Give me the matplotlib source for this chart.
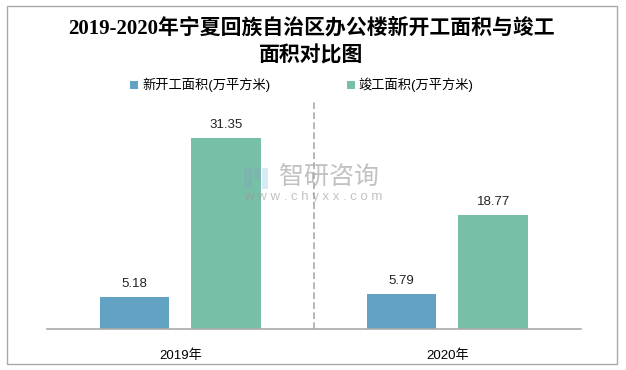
import matplotlib
matplotlib.use("Agg")
from matplotlib import pyplot as plt
from matplotlib.patches import Rectangle
import numpy as np

plt.rcParams['font.family'] = ['Liberation Sans', 'Noto Sans CJK SC', 'DejaVu Sans']

years = ["2019年", "2020年"]
series_names = ["新开工面积(万平方米)", "竣工面积(万平方米)"]
new_start = [5.18, 5.79]
completed = [31.35, 18.77]

blue = "#62A3C4"
green = "#77BFA7"

fig = plt.figure(figsize=(6.26, 3.70), dpi=100)
ax = fig.add_axes([0.075, 0.111, 0.853, 0.619])

x = np.arange(len(years))
w = 0.262
off = 0.172
b1 = ax.bar(x - off, new_start, w, color=blue, label=series_names[0])
b2 = ax.bar(x + off, completed, w, color=green, label=series_names[1])

for bars, vals in [(b1, new_start), (b2, completed)]:
    for bar, v in zip(bars, vals):
        ax.annotate(f"{v:.2f}", (bar.get_x() + bar.get_width() / 2, v),
                    xytext=(0, 5), textcoords="offset points",
                    ha="center", va="bottom", fontsize=9.5, color="#222222")

ax.set_xlim(-0.5, 1.5)
ax.set_ylim(0, 37.6)
ax.axvline(0.5, color="#AAAAAA", linestyle=(0, (4, 2)), linewidth=1.2)

for s in ["top", "right", "left"]:
    ax.spines[s].set_visible(False)
ax.spines["bottom"].set_color("#AAAAAA")
ax.spines["bottom"].set_linewidth(1.2)
ax.set_yticks([])
ax.set_xticks(x)
ax.set_xticklabels(years, fontsize=9.5)
ax.tick_params(axis="x", length=0, pad=15)

# title
fig.text(0.497, 0.886, "2019-2020年宁夏回族自治区办公楼新开工面积与竣工\n面积对比图",
         ha="center", va="center", fontsize=15, fontweight="bold",
         family=['Liberation Serif', 'Noto Sans CJK SC'], linespacing=1.52)

# legend
leg = fig.legend(handles=[b1, b2], loc="center", bbox_to_anchor=(0.482, 0.77),
                 ncol=2, frameon=False, fontsize=9.5, handlelength=0.6,
                 handleheight=0.6, columnspacing=5.8, handletextpad=0.3)

# watermark (logo + text)
for rx, ry, rw, rh, c in [(0.389, 0.49, 0.014, 0.055, "#7FA9B8"),
                          (0.405, 0.515, 0.012, 0.03, "#7FA9B8"),
                          (0.419, 0.49, 0.009, 0.055, "#A8D4EE")]:
    fig.patches.append(Rectangle((rx, ry), rw, rh, transform=fig.transFigure,
                                 color=c, alpha=0.45, linewidth=0))
fig.text(0.526, 0.522, "智研咨询", ha="center", va="center", fontsize=18,
         color="#999999", alpha=0.6)
fig.text(0.5, 0.468, "w w w . c h y x x . c o m", ha="center", va="center",
         fontsize=9.5, color="#999999", alpha=0.6)

# outer border
fig.patches.append(Rectangle((0.011, 0.016), 0.975, 0.968, transform=fig.transFigure,
                             fill=False, edgecolor="#AAAAAA", linewidth=1))

fig.savefig("out.png", dpi=100)
